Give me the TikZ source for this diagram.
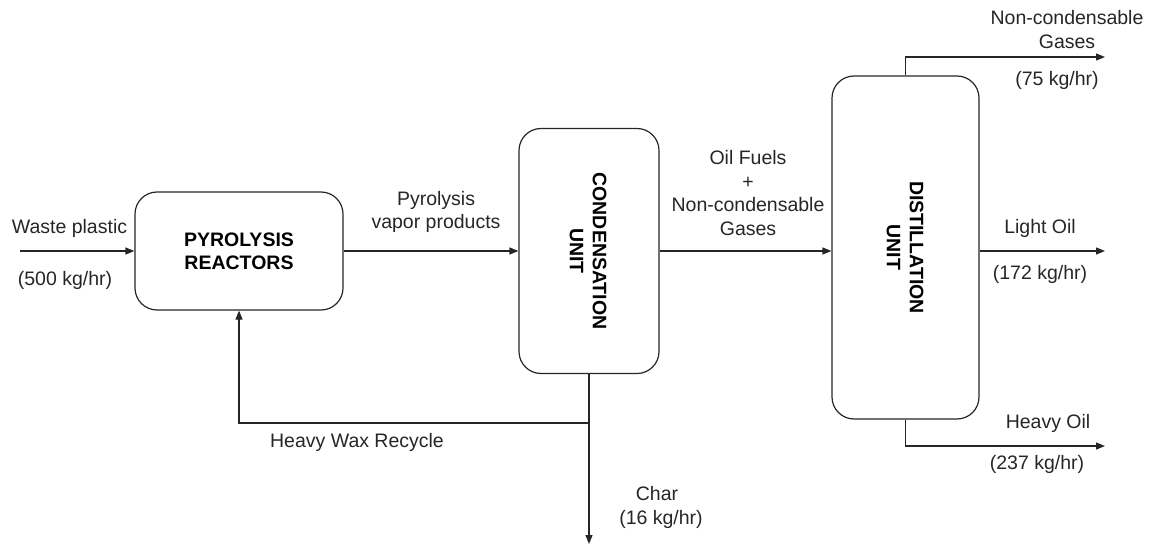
\documentclass[tikz,border=0pt]{standalone}
\usepackage{fontspec}
\setmainfont{Liberation Sans}
\usetikzlibrary{arrows.meta}
\begin{document}
\begin{tikzpicture}[x=1pt,y=-1pt,
  unitbox/.style={draw=black!85,line width=1.2pt,rounded corners=22pt,inner sep=0pt,
    font=\fontsize{19.5}{23}\selectfont\bfseries,align=center},
  unittext/.style={font=\fontsize{19.5}{23}\selectfont\bfseries,align=center,rotate=-90},
  flow/.style={draw=black!85,line width=1.2pt,-{Triangle[length=9pt,width=7pt]}},
  lbl/.style={font=\fontsize{19.5}{23.5}\selectfont,text=black!85,align=center,inner sep=0pt}]
\useasboundingbox (0,0) rectangle (1155,548);
% units
\node[unitbox,minimum width=208pt,minimum height=118pt] (pyro) at (239,251) {PYROLYSIS\\REACTORS};
\node[unitbox,minimum width=140pt,minimum height=245pt] (cond) at (589,251) {};
\node[unittext] (condt) at (588,251) {CONDENSATION\\UNIT};
\node[unitbox,minimum width=147pt,minimum height=343pt] (dist) at (905.5,247.5) {};
\node[unittext] (distt) at (905,247.5) {DISTILLATION\\UNIT};
% free ends
\coordinate (wpin) at (20,251);
\coordinate (ncend) at (1105,57);
\coordinate (loend) at (1105,251);
\coordinate (hoend) at (1105,446);
\coordinate (charend) at (589,544);
\coordinate (junc) at (589,423);
% connectors
\draw[flow] (wpin) -- (pyro.west |- wpin);
\draw[flow] (pyro.east) -- (cond.west);
\draw[flow] (cond.east) -- (cond.east -| dist.west);
\draw[flow] (dist.north) |- (ncend);
\draw[flow] (dist.east |- loend) -- (loend);
\draw[flow] (dist.south) |- (hoend);
\draw[flow] (cond.south) -- (charend);
\draw[flow] (junc) -| (pyro.south);
% labels
\node[lbl] (l1) at (69.5,228) {Waste plastic};
\node[lbl] (l2) at (65,280) {(500 kg/hr)};
\node[lbl] (l3) at (436,212) {Pyrolysis\\vapor products};
\node[lbl] (l4) at (748,193) {Oil Fuels\\+\\Non-condensable\\Gases};
\node[lbl] (l5) at (1067,29.5) {Non-condensable\\Gases};
\node[lbl] (l6) at (1057,80) {(75 kg/hr)};
\node[lbl] (l7) at (1040,228) {Light Oil};
\node[lbl] (l8) at (1040,274) {(172 kg/hr)};
\node[lbl] (l9) at (1048,423) {Heavy Oil};
\node[lbl] (l10) at (1037,464) {(237 kg/hr)};
\node[lbl] (l11) at (357,442) {Heavy Wax Recycle};
\node[lbl] (l12) at (657,494) {Char};
\node[lbl] (l13) at (661,519) {(16 kg/hr)};
\end{tikzpicture}
\end{document}
